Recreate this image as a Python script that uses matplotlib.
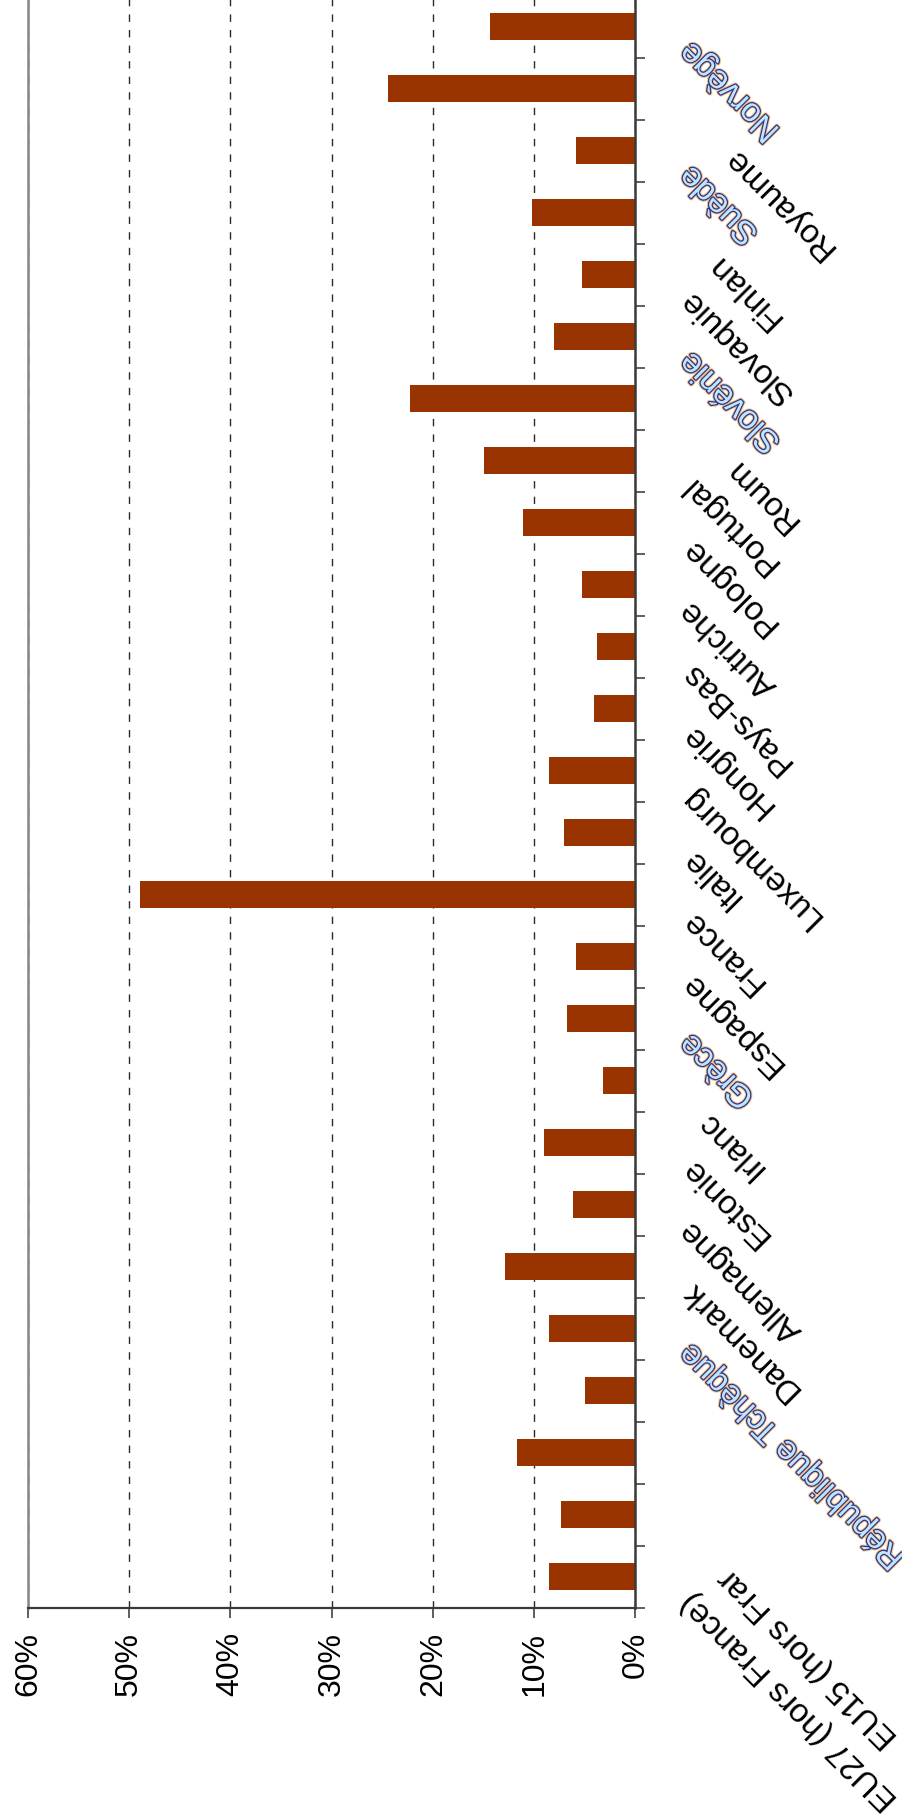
import numpy as np
import matplotlib
matplotlib.use("Agg")
import matplotlib.pyplot as plt
import matplotlib.patheffects as pe
from matplotlib.ticker import PercentFormatter
from matplotlib.textpath import TextToPath
from matplotlib.font_manager import FontProperties

plt.rcParams['font.family'] = ['Liberation Sans', 'DejaVu Sans']
plt.rcParams['lines.scale_dashes'] = False

# categories, from the bottom of the picture to the top
pays = ["EU27 (hors France)", "EU15 (hors France)", "Belgique", "Bulgarie",
        "République Tchèque", "Danemark", "Allemagne", "Estonie", "Irlande",
        "Grèce", "Espagne", "France", "Italie", "Luxembourg", "Hongrie",
        "Pays-Bas", "Autriche", "Pologne", "Portugal", "Roumanie", "Slovénie",
        "Slovaquie", "Finlande", "Suède", "Royaume-Uni", "Norvège"]
# what can actually be read of each label (some are cut, two are missing)
etiquettes = ["EU27 (hors France)", "EU15 (hors Frar", "", "",
              "République Tchèque", "Danemark", "Allemagne", "Estonie", "Irlanc",
              "Grèce", "Espagne", "France", "Italie", "Luxembourg", "Hongrie",
              "Pays-Bas", "Autriche", "Pologne", "Portugal", "Roum", "Slovénie",
              "Slovaquie", "Finlan", "Suède", "Royaume", "Norvège"]
# labels drawn with the garbled colour rendering
brouilles = ["République Tchèque", "Grèce", "Slovénie", "Suède", "Norvège"]

parts = [8.5, 7.4, 11.7, 5.0, 8.5, 12.9, 6.2, 9.0, 3.2, 6.8, 5.9, 48.9, 7.1,
         8.5, 4.1, 3.8, 5.3, 11.1, 15.0, 22.3, 8.0, 5.3, 10.2, 5.9, 24.4, 14.4]

valeurs_axe = [0, 0.1, 0.2, 0.3, 0.4, 0.5, 0.6]

W, H = 902, 1818
fig = plt.figure(figsize=(W / 100, H / 100), dpi=100)
ax = fig.add_axes([28 / W, 1 - 1607.5 / H, (635.5 - 28) / W, (1607.5 + 4.5) / H])

y = np.arange(len(parts))
ax.barh(y, np.array(parts) / 100, height=0.43, color='#993300', zorder=2)
ax.set_xlim(0.6, 0)
ax.set_ylim(-0.5, len(parts) - 0.5)

ax.set_axisbelow(True)
ax.grid(axis='x', color='#2a2a2a', linewidth=1.0, linestyle=(0, (5.3, 5.9)))
ax.grid(axis='y', visible=False)

ax.spines['top'].set_visible(False)
ax.spines['left'].set_color('#868686')
ax.spines['left'].set_linewidth(1.8)
ax.spines['right'].set_color('#3a3a3a')
ax.spines['right'].set_linewidth(1.8)
ax.spines['bottom'].set_color('#3a3a3a')
ax.spines['bottom'].set_linewidth(1.6)

ax.set_xticks(valeurs_axe)
ax.xaxis.set_major_formatter(PercentFormatter(1.0, decimals=0))
ax.tick_params(axis='x', length=7, width=1.1, color='#333333', pad=10.5,
               labelsize=23, labelrotation=90)

ax.yaxis.tick_right()
ax.set_yticks(np.arange(-0.5, len(parts), 1.0))
ax.set_yticklabels([])
ax.tick_params(axis='y', length=7, width=1.1, color='#333333')

fp = FontProperties(family='Liberation Sans', size=24)
t2p = TextToPath()


def largeur(s):
    if not s:
        return 0.0
    return t2p.get_text_width_height_descent(s, fp, ismath=False)[0]


for i, lab in enumerate(etiquettes):
    if not lab:
        continue
    # a cut label keeps the start of the full one
    d = (largeur(pays[i]) - largeur(lab)) / np.sqrt(2)
    kw = dict(color='black')
    if lab in brouilles:
        kw = dict(color='#bfe6ff',
                  path_effects=[pe.Stroke(linewidth=3.2, foreground='#f2c48a'),
                                pe.Stroke(linewidth=1.8, foreground='#34347e'),
                                pe.Normal()])
    ax.annotate(lab, xy=(0, i), xycoords='data',
                xytext=(36 + d, -14.4 - d), textcoords='offset points',
                rotation=135, rotation_mode='anchor', ha='right', va='center',
                fontproperties=fp, annotation_clip=False, **kw)

fig.savefig('out.png', dpi=100)
